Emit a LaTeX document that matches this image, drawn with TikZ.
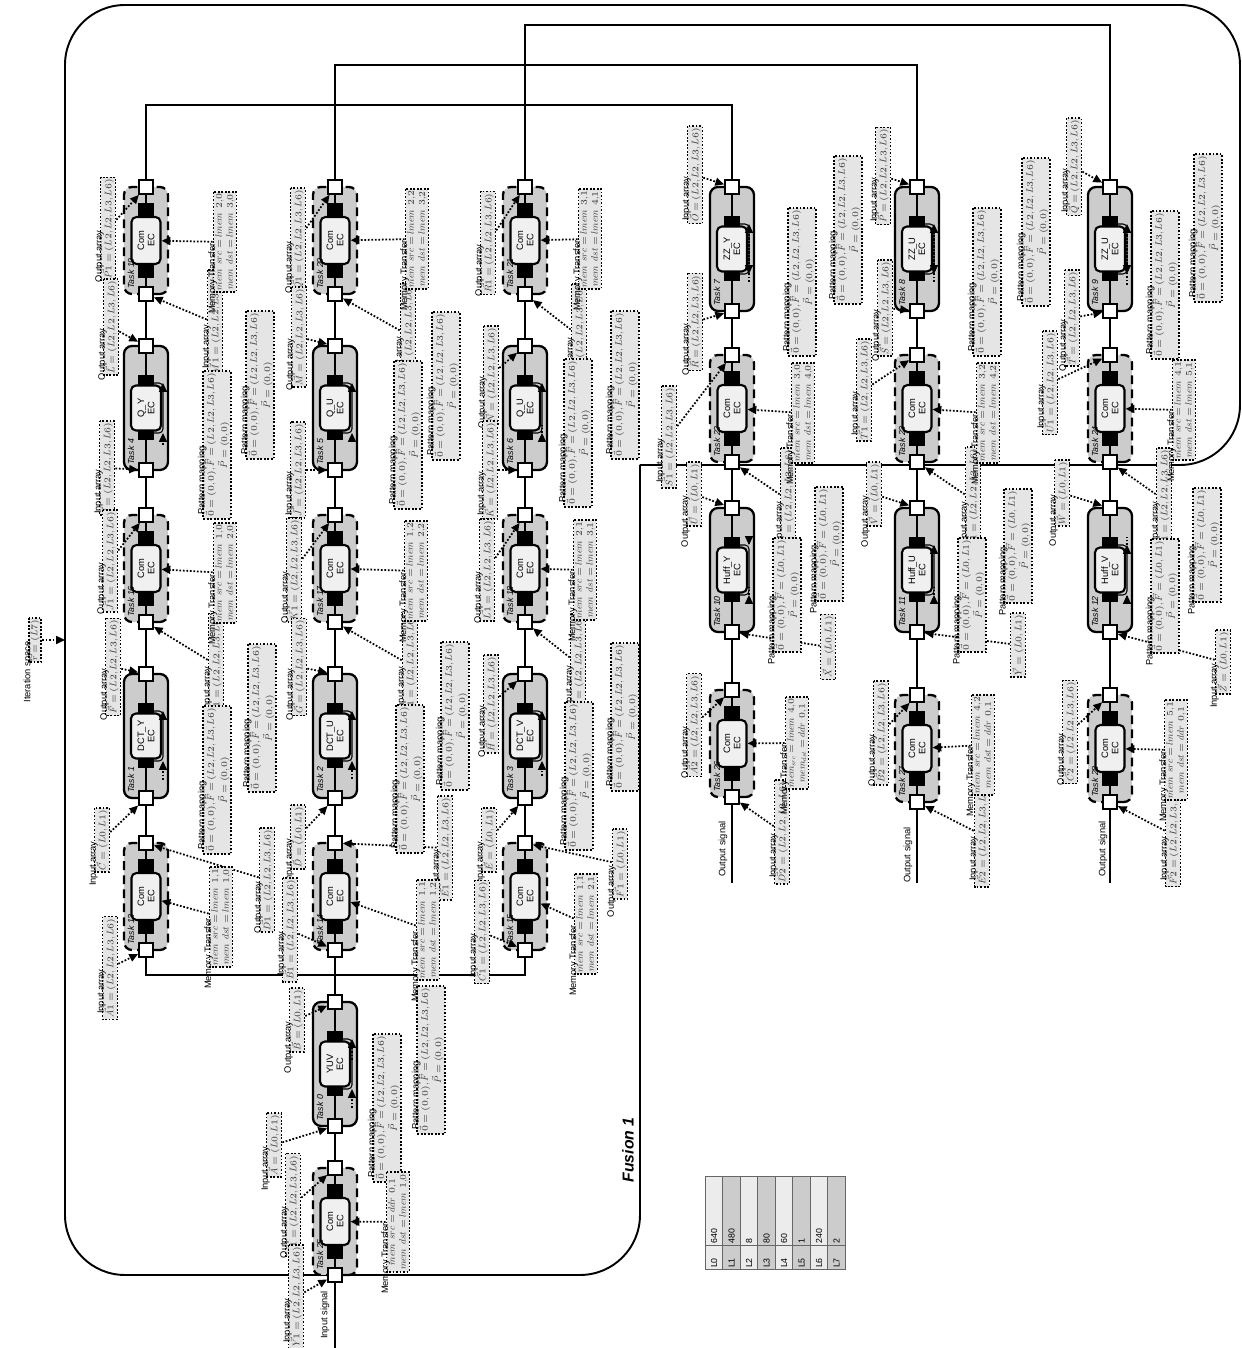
\documentclass[tikz,border=0pt]{standalone}
\usepackage{fontspec}
\setsansfont{Liberation Sans}
\usetikzlibrary{arrows.meta}

% maths fonts scaled linearly
\DeclareFontFamily{OML}{lcmm}{\skewchar\font'177}
\DeclareFontShape{OML}{lcmm}{m}{it}{<-> cmmi10}{}
\DeclareFontFamily{OT1}{lcmr}{\hyphenchar\font45}
\DeclareFontShape{OT1}{lcmr}{m}{n}{<-> cmr10}{}
\DeclareFontFamily{OMS}{lcms}{\skewchar\font'60}
\DeclareFontShape{OMS}{lcms}{m}{n}{<-> cmsy10}{}
\DeclareSymbolFont{operators}{OT1}{lcmr}{m}{n}
\DeclareSymbolFont{letters}{OML}{lcmm}{m}{it}
\DeclareSymbolFont{symbols}{OMS}{lcms}{m}{n}

\def\lfour{(L2,L2,L3,L6)}
\def\ltwo{(L0,L1)}

\tikzset{
  wire/.style={line width=1pt},
  fusion/.style={line width=1.1pt, rounded corners=12mm},
  fuslbl/.style={font=\sffamily\bfseries\itshape\fontsize{9}{10}\selectfont},
  combox/.style={draw, fill=gray!40, line width=1.3pt, dash pattern=on 5pt off 3pt, rounded corners=1.6mm},
  calcbox/.style={draw, fill=gray!40, line width=1.3pt, rounded corners=1.6mm},
  port/.style={draw, fill=white, line width=1pt, minimum size=2.8mm, inner sep=0pt},
  blk/.style={fill=black, minimum width=3mm, minimum height=3.2mm, inner sep=0pt},
  ecnode/.style={draw, fill=gray!12, line width=1.2pt, rounded corners=1mm, minimum width=9mm, minimum height=6mm, inner sep=0pt, align=center, font=\sffamily\fontsize{5.3}{5.8}\selectfont},
  tasklbl/.style={anchor=west, inner sep=0pt, font=\sffamily\itshape\fontsize{5}{6}\selectfont},
  arr/.style={draw, densely dotted, line width=1pt, fill=gray!20, text=black!80, inner sep=1pt, align=center, font=\fontsize{5.4}{6.2}\selectfont},
  ttl/.style={inner sep=0.6pt, text=black, font=\sffamily\fontsize{5.3}{6}\selectfont},
  annot/.style={densely dotted, line width=1pt, -{Triangle[length=5pt,width=4.5pt]}},
  tcell/.style={draw=black!60, line width=0.5pt, minimum height=3.5mm, inner sep=0.9pt, align=left, font=\sffamily\fontsize{5}{6}\selectfont},
}

% communication task: name, left port, spine, number
\newcommand{\comtask}[4]{%
  \draw[combox] (#2,#3-22) rectangle (#2+107,#3+22);
  \draw[wire] (#2,#3) -- (#2+107,#3);
  \node[blk] (#1-p) at (#2+23.5,#3) {};
  \node[blk] (#1-q) at (#2+83.5,#3) {};
  \node[ecnode, minimum width=9.4mm, minimum height=5.8mm] (#1-e) at (#2+53.5,#3) {Com\\EC};
  \node[port] (#1-l) at (#2,#3) {};
  \node[port] (#1-r) at (#2+107,#3) {};
  \node[tasklbl] at (#2+5,#3+15) {Task #4};
}
% compute task: name, left port, spine, kernel, number
\newcommand{\calctask}[5]{%
  \draw[calcbox] (#2,#3-22) rectangle (#2+124,#3+22);
  \draw[wire] (#2,#3) -- (#2+124,#3);
  \draw[line width=0.6pt, rounded corners=0.8mm] (#2+37,#3-8) -- (#2+37,#3-17) -- (#2+87,#3-17) -- (#2+87,#3-8);
  \coordinate (#1-pa) at (#2+37,#3-17);
  \coordinate (#1-qa) at (#2+87,#3-17);
  \node[blk] (#1-p) at (#2+37,#3) {};
  \node[blk] (#1-q) at (#2+87,#3) {};
  \node[ecnode] (#1-e) at (#2+62,#3) {#4\\EC};
  \node[port] (#1-l) at (#2,#3) {};
  \node[port] (#1-r) at (#2+124,#3) {};
  \node[tasklbl] at (#2+5,#3+15) {Task #5};
}

\begin{document}
\begin{tikzpicture}[x=0.2mm, y=0.2mm]
\begin{scope}[rotate=90, transform shape]
\useasboundingbox (0,0) rectangle (1348,1241);

% --- fusion region ---
\draw[fusion] (883,601) -- (883,1) -- (1343,1) -- (1343,1176) -- (73,1176) -- (73,601) -- (883,601);
\node[fuslbl] (fus1) at (198,613) {Fusion 1};

% --- tasks ---
\foreach \uu/\vv/\k in {1054/1095/19, 726/1095/16, 398/1095/13, 1054/906/20, 726/906/17, 398/906/14, 73/906/25,
    1054/716/21, 726/716/18, 398/716/15, 886/509/22, 551/509/26, 886/324/23, 546/324/27, 886/131/24, 546/131/28}
  \comtask{t\k}{\uu}{\vv}{\k};
\foreach \uu/\vv/\f/\k in {878/1095/Q\_Y/4, 550/1095/DCT\_Y/1, 878/906/Q\_U/5, 550/906/DCT\_U/2, 222/906/YUV/0,
    878/716/Q\_U/6, 550/716/DCT\_V/3, 1037/509/ZZ\_Y/7, 716/509/Huff\_Y/10, 1037/324/ZZ\_U/8, 716/324/Huff\_U/11,
    1037/131/ZZ\_U/9, 716/131/Huff\_V/12}
  \calctask{t\k}{\uu}{\vv}{\f}{\k};

% --- connections ---
\foreach \a/\b in {t13/t1, t1/t16, t16/t4, t4/t19, t25/t0, t0/t14, t14/t2, t2/t17, t17/t5, t5/t20, t15/t3, t3/t18, t18/t6, t6/t21}
  \draw[wire] (\a-r) -- (\b-l);
\foreach \a/\b in {t7/t22, t22/t10, t10/t26, t8/t23, t23/t11, t11/t27, t9/t24, t24/t12, t12/t28}
  \draw[wire] (\a-l) -- (\b-r);
\draw[wire] (t19-r) -- (1243,1095) -- (1243,509) -- (t7-r);
\draw[wire] (t20-r) -- (1283,906) -- (1283,324) -- (t8-r);
\draw[wire] (t21-r) -- (1323,716) -- (1323,131) -- (t9-r);
\draw[wire] (t13-l) -- (373,1095) -- (373,716) -- (t15-l);
\coordinate (insig) at (0,906);
\coordinate (outd) at (465,509);
\coordinate (oute) at (465,324);
\coordinate (outf) at (465,131);
\draw[wire] (t25-l) -- (insig);
\draw[wire] (t26-l) -- (outd);
\draw[wire] (t27-l) -- (oute);
\draw[wire] (t28-l) -- (outf);
\node[ttl] (sin) at (33,916) {Input signal};
\node[ttl] (sod) at (499,518) {Output signal};
\node[ttl] (soe) at (493,333) {Output signal};
\node[ttl] (sof) at (499,138) {Output signal};

% --- input / output arrays ---
\foreach \n/\uu/\vv/\kind/\txt/\tg in {
    a1/1119/1133/Output/\vec{P1}=\lfour/t19-r, a2/1025/1026/Input/\vec{M1}=\lfour/t19-l,
    a3/1021/1130/Output/\vec{L}=\lfour/t4-r, a4/880/1134/Input/\vec{I}=\lfour/t4-l,
    a5/787/1131/Output/\vec{J1}=\lfour/t16-r, a6/683/1025/Input/\vec{G1}=\lfour/t16-l,
    a7/681/1128/Output/\vec{F}=\lfour/t1-r, a8/508/1139/Input/\vec{C}=\ltwo/t1-l,
    a9/468/974/Output/\vec{D1}=\lfour/t13-r, a10/380/1131/Input/\vec{A1}=\lfour/t13-l,
    b1/1108/943/Output/\vec{Q1}=\lfour/t20-r, b2/1013/833/Input/\vec{N1}=\lfour/t20-l,
    b3/1011/942/Output/\vec{M}=\lfour/t5-r, b4/878/943/Input/\vec{J}=\lfour/t5-l,
    b5/778/947/Output/\vec{K1}=\lfour/t17-r, b6/683/831/Input/\vec{H1}=\lfour/t17-l,
    b7/681/942/Output/\vec{G}=\lfour/t2-r, b8/511/943/Input/\vec{D}=\ltwo/t2-l,
    b9/500/796/Output/\vec{E1}=\lfour/t14-r, b10/418/951/Input/\vec{B1}=\lfour/t14-l,
    b11/328/944/Output/\vec{B}=\ltwo/t0-r, b12/203/967/Input/\vec{A}=\ltwo/t0-l,
    b13/143/948/Output/\vec{Z1}=\lfour/t25-r, b14/51/945/Input/\vec{Y1}=\lfour/t25-l,
    c1/1105/753/Output/\vec{R1}=\lfour/t21-r, c2/1012/662/Input/\vec{O1}=\lfour/t21-l,
    c3/973/750/Output/\vec{N}=\lfour/t6-r, c4/878/751/Input/\vec{K}=\lfour/t6-l,
    c5/778/754/Output/\vec{L1}=\lfour/t18-r, c6/684/663/Input/\vec{I1}=\lfour/t18-l,
    c7/644/750/Output/\vec{H}=\lfour/t3-r, c8/508/752/Input/\vec{E}=\ltwo/t3-l,
    c9/484/621/Output/\vec{F1}=\ltwo/t15-r, c10/416/759/Input/\vec{C1}=\lfour/t15-l,
    d1/1173/546/Input/\vec{O}=\lfour/t7-r, d2/1026/546/Output/\vec{R}=\lfour/t7-l,
    d3/911/572/Input/\vec{S1}=\lfour/t22-r, d4/848/453/Output/\vec{V1}=\lfour/t22-l,
    d5/854/547/Output/\vec{U}=\ltwo/t10-r, d6/623/547/Output/\vec{A2}=\lfour/t26-r,
    d7/516/459/Input/\vec{D2}=\lfour/t26-l,
    e1/1172/358/Input/\vec{P}=\lfour/t8-r, e2/1040/356/Output/\vec{S}=\lfour/t8-l,
    e3/958/377/Input/\vec{T1}=\lfour/t23-r, e4/848/268/Output/\vec{W1}=\lfour/t23-l,
    e5/854/367/Output/\vec{V}=\ltwo/t11-r, e6/615/360/Output/\vec{B2}=\lfour/t27-r,
    e7/513/259/Input/\vec{E2}=\lfour/t27-l,
    f1/1181/167/Input/\vec{Q}=\lfour/t9-r, f2/1030/169/Output/\vec{T}=\lfour/t9-l,
    f3/965/191/Input/\vec{U1}=\lfour/t24-r, f4/848/77/Output/\vec{X1}=\lfour/t24-l,
    f5/855/179/Output/\vec{W}=\ltwo/t12-r, f6/686/18/Input/\vec{Z}=\ltwo/t12-l,
    f7/616/171/Output/\vec{C2}=\lfour/t28-r, f8/513/68/Input/\vec{F2}=\lfour/t28-l}
{
  \node[arr, label={[ttl]above:\kind\ array}] (\n) at (\uu,\vv) {$\txt$};
  \draw[annot] (\n) -- (\tg);
}
\node[arr] (x10) at (701,413) {$\vec{X}=\ltwo$};
\draw[annot] (x10) -- (t10-l);
\node[arr] (y11) at (703,223) {$\vec{Y}=\ltwo$};
\draw[annot] (y11) -- (t11-l);

% --- pattern mappings ---
\foreach \n/\uu/\vv/\fv/\tg in {
    pm4a/963/981/\lfour/t4-q, pm4b/903/1024/\lfour/t4-p, pm1a/630/979/\lfour/t1-q, pm1b/568/1024/\lfour/t1-p,
    pm5a/962/795/\lfour/t5-q, pm5b/913/833/\lfour/t5-p, pm2a/632/786/\lfour/t2-q, pm2b/569/831/\lfour/t2-p,
    pm0a/288/810/\lfour/t0-q, pm0b/240/854/\lfour/t0-p,
    pm6a/963/616/\lfour/t6-q, pm6b/915/663/\lfour/t6-p, pm3a/631/616/\lfour/t3-q, pm3b/572/662/\lfour/t3-p,
    pm7a/1066/439/\lfour/t7-q, pm7b/1118/393/\lfour/t7-p, pm10a/804/412/\ltwo/t10-q, pm10b/753/454/\ltwo/t10-p,
    pm8a/1066/254/\lfour/t8-q, pm8b/1116/205/\lfour/t8-p, pm11a/802/223/\ltwo/t11-q, pm11b/753/269/\ltwo/t11-p,
    pm9a/1063/76/\lfour/t9-q, pm9b/1120/33/\lfour/t9-p, pm12a/803/34/\ltwo/t12-q, pm12b/752/76/\ltwo/t12-p}
{
  \node[arr, label={[ttl]above:Pattern mapping}] (\n) at (\uu,\vv) {$\vec{0}=(0,0),\vec{F}=\fv$\\$\vec{P}=(0,0)$};
  \draw[annot] (\n.north |- \tg a) -- (\tg a);
}

% --- memory transfers ---
\foreach \n/\uu/\vv/\s/\d/\tg in {
    m19/1106/1016/{lmem\ 2{,}0}/{lmem\ 3{,}0}/t19-e, m16/775/1016/{lmem\ 1{,}0}/{lmem\ 2{,}0}/t16-e,
    m13/431/1020/{lmem\ 1{,}1}/{lmem\ 1{,}0}/t13-e, m20/1109/824/{lmem\ 2{,}2}/{lmem\ 3{,}2}/t20-e,
    m17/777/825/{lmem\ 1{,}2}/{lmem\ 2{,}2}/t17-e, m14/418/813/{lmem\ 1{,}1}/{lmem\ 1{,}2}/t14-e,
    m25/126/843/{ddr\ 0{,}1}/{lmem\ 1{,}0}/t25-e, m21/1109/651/{lmem\ 3{,}1}/{lmem\ 4{,}1}/t21-e,
    m18/778/656/{lmem\ 2{,}1}/{lmem\ 3{,}1}/t18-e, m15/424/655/{lmem\ 1{,}1}/{lmem\ 2{,}1}/t15-e,
    m22/935/438/{lmem\ 3{,}0}/{lmem\ 4{,}0}/t22-e, m23/935/253/{lmem\ 3{,}2}/{lmem\ 4{,}2}/t23-e,
    m27/603/258/{lmem\ 4{,}2}/{ddr\ 0{,}1}/t27-e, m24/938/57/{lmem\ 4{,}1}/{lmem\ 5{,}1}/t24-e,
    m28/598/65/{lmem\ 5{,}1}/{ddr\ 0{,}1}/t28-e}
{
  \node[arr, label={[ttl]above:Memory Transfer}] (\n) at (\uu,\vv) {$mem\ src=\s$\\$mem\ dst=\d$};
  \draw[annot] (\n) -- (\tg);
}
\node[arr, label={[ttl]above:Memory Transfer}] (m26) at (605,444) {$mem_{src}=lmem\ 4{,}0$\\$mem_{dst}=ddr\ 0{,}1$};
\draw[annot] (m26) -- (t26-e);

% --- iteration space ---
\node[arr, label={[ttl]above:Iteration space}] (iter) at (708,1206) {$\vec{r}=(L7)$};
\coordinate (fus) at (708,1176);
\draw[annot] (iter) -- (fus);

% --- loop bounds ---
\foreach \val/\c [count=\i from 0] in {640/gray!15, 480/gray!40, 8/gray!15, 80/gray!40, 60/gray!15, 1/gray!40, 240/gray!15, 2/gray!40}{
  \node[tcell, fill=\c, text width=4.1mm, anchor=north west] (k\i) at (78,{536-17.5*\i}) {L\i};
  \node[tcell, fill=\c, text width=13.1mm, anchor=west] (w\i) at (k\i.east) {\val};
}
\end{scope}
\end{tikzpicture}
\end{document}
